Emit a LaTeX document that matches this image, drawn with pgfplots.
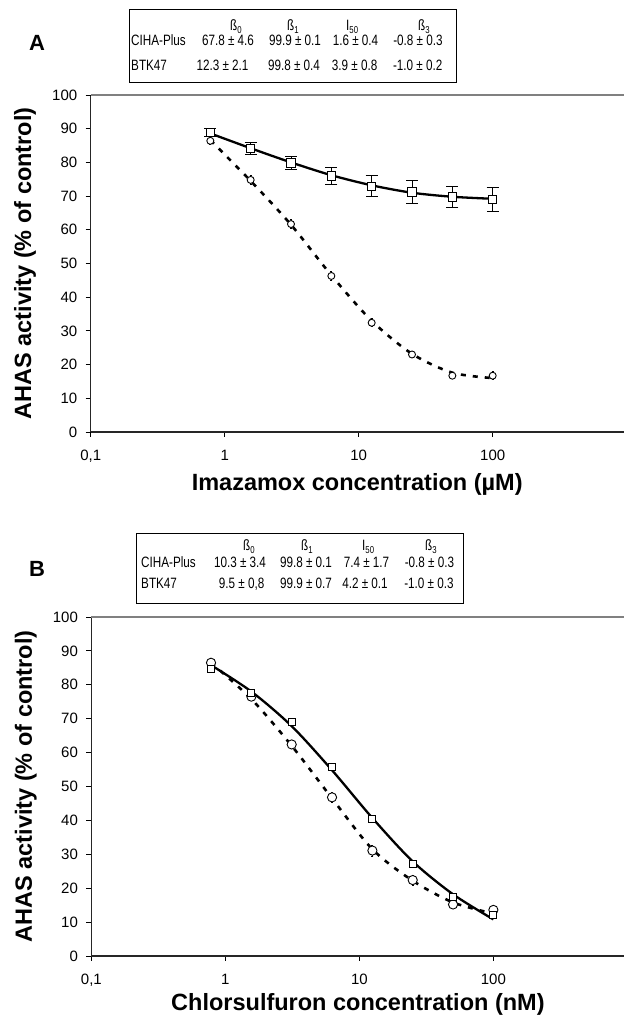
\documentclass[border=0pt]{standalone}
\usepackage{fontspec}
\setmainfont{Liberation Sans}
\newfontfamily\narrowfont[FakeStretch=0.78]{Liberation Sans}
\usepackage{pgfplots}
\pgfplotsset{compat=1.18}

\newcommand\tickfont{\fontsize{15bp}{18bp}\selectfont}
\newcommand\labfont{\bfseries\fontsize{23.5bp}{28bp}\selectfont}
\newcommand\tabfont{\narrowfont\fontsize{15bp}{18bp}\selectfont}
\newcommand\sub[1]{\raisebox{-0.2em}{\fontsize{10bp}{11bp}\selectfont #1}}

\pgfplotsset{
  panel/.style={
    scale only axis, width=533bp,
    xmin=0.1, xmax=950, ymin=0, ymax=100,
    axis x line*=bottom, axis y line*=left,
    axis line style={line width=1.1bp, black!85},
    xtick={0.1,1,10,100}, xticklabels={0{,}1,1,10,100},
    xminorticks=false,
    ytick={0,10,...,90}, yticklabels={0,10,20,30,40,50,60,70,80,90},
    extra y ticks={100}, extra y tick labels={100},
    extra y tick style={grid=major, major grid style={gray, line width=1.1bp}},
    tick align=outside, major tick length=5bp,
    tick style={line width=0.9bp, black},
    tick label style={font=\tickfont},
    xticklabel style={yshift=-10bp},
    yticklabel style={xshift=-5bp},
    xlabel style={font=\labfont, anchor=base},
    ylabel style={font=\labfont, at={(axis description cs:-0.123,0.5)}, anchor=center},
    ylabel={AHAS activity (\% of control)},
  },
  fitsolid/.style={black, line width=2.3bp, smooth, no marks},
  fitdash/.style={black, line width=2.6bp, smooth, no marks, dash pattern=on 5bp off 7bp},
  sq/.style={only marks, mark=square*, mark options={fill=white, draw=black, line width=0.9bp, solid}},
  ci/.style={only marks, mark=*, mark options={fill=white, draw=black, line width=0.9bp, solid}},
}

% panel A
\pgfplotstableread{
x y e
0.78125 88.9 1.3
1.5625 84.2 1.8
3.125 79.8 1.9
6.25 76.0 2.4
12.5 72.9 3.1
25 71.2 3.4
50 69.7 3.1
100 69.0 3.6
}\Asq
\pgfplotstableread{
x y e
0.78125 86.4 1.0
1.5625 74.8 1.2
3.125 61.7 1.3
6.25 46.3 1.4
12.5 32.4 1.2
25 23.0 0.6
50 16.7 0.6
100 16.7 1.2
}\Aci
\pgfplotstableread{
x y
0.78125 88.6
1.5625 84.2
3.125 80.0
6.25 76.2
12.5 73.2
25 71.0
50 69.8
100 69.2
}\Afitsq
\pgfplotstableread{
x y
0.78125 86.6
1.5625 74.5
3.125 61.5
6.25 46.5
12.5 33.0
25 23.2
50 17.6
100 16.0
}\Afitci
% panel B
\pgfplotstableread{
x y
0.78125 84.6
1.5625 77.5
3.125 68.9
6.25 55.7
12.5 40.4
25 27.1
50 17.3
100 12.1
}\Bsq
\pgfplotstableread{
x y e
0.78125 86.5 1.0
1.5625 76.5 1.2
3.125 62.4 1.0
6.25 46.8 1.6
12.5 31.1 1.6
25 22.4 1.5
50 15.2 0.8
100 13.6 0.8
}\Bci
\pgfplotstableread{
x y
0.78125 85.8
1.5625 78.0
3.125 67.8
6.25 54.8
12.5 40.7
25 27.9
50 18.2
100 10.8
}\Bfitsq
\pgfplotstableread{
x y
0.78125 86.5
1.5625 75.8
3.125 62.0
6.25 46.5
12.5 31.5
25 22.2
50 15.8
100 12.5
}\Bfitci

\begin{document}
\begin{tikzpicture}
\useasboundingbox (0,0) rectangle (624bp,1017bp);

\begin{semilogxaxis}[panel, height=337bp, at={(90.7bp,585bp)}, anchor=south west,
  xlabel style={at={(axis description cs:0.5,-0.175)}},
  xlabel={Imazamox concentration (µM)}]
  \addplot[fitsolid] table[x=x,y=y] {\Afitsq};
  \addplot[fitdash] table[x=x,y=y] {\Afitci};
  \addplot[sq, mark size=4.2bp, error bars/.cd, y dir=both, y explicit,
    error bar style={line width=0.9bp, solid},
    error mark options={rotate=90, mark size=6bp, line width=0.9bp}]
    table[x=x,y=y,y error=e] {\Asq};
  \addplot[ci, mark size=3.5bp, error bars/.cd, y dir=both, y explicit,
    error bar style={line width=0.8bp, solid},
    error mark options={rotate=90, mark size=1bp, line width=0.8bp}]
    table[x=x,y=y,y error=e] {\Aci};
\end{semilogxaxis}

\begin{semilogxaxis}[panel, height=339bp, at={(91.4bp,61bp)}, anchor=south west,
  xlabel style={at={(axis description cs:0.5,-0.162)}},
  xlabel={Chlorsulfuron concentration (nM)}]
  \addplot[fitsolid] table[x=x,y=y] {\Bfitsq};
  \addplot[fitdash] table[x=x,y=y] {\Bfitci};
  \addplot[ci, mark size=4.6bp, error bars/.cd, y dir=both, y explicit,
    error bar style={line width=0.8bp, solid},
    error mark options={rotate=90, mark size=1bp, line width=0.8bp}]
    table[x=x,y=y,y error=e] {\Bci};
  \addplot[sq, mark size=3.5bp] table[x=x,y=y] {\Bsq};
\end{semilogxaxis}

\begin{scope}[shift={(0,1017bp)}, x=1bp, y=-1bp]
  % panel A
  \node[font=\bfseries\fontsize{22bp}{26bp}\selectfont] at (37,43) {A};
  \draw[line width=0.9bp] (129,9) rectangle (456,82);
  \begin{scope}[every node/.style={font=\tabfont, inner sep=0pt}]
    \node[anchor=base west] at (230,30.5) {ß\sub{0}};
    \node[anchor=base west] at (287,30.5) {ß\sub{1}};
    \node[anchor=base west] at (346,30.5) {I\sub{50}};
    \node[anchor=base west] at (418,30.5) {ß\sub{3}};
    \node[anchor=base west] at (131,45.5) {CIHA-Plus};
    \node[anchor=base west] at (131,70.5) {BTK47};
    \node[anchor=base] at (228,45.5) {67.8 ± 4.6};
    \node[anchor=base] at (295,45.5) {99.9 ± 0.1};
    \node[anchor=base] at (355.5,45.5) {1.6 ± 0.4};
    \node[anchor=base] at (418,45.5) {-0.8 ± 0.3};
    \node[anchor=base] at (222.5,70.5) {12.3 ± 2.1};
    \node[anchor=base] at (294,70.5) {99.8 ± 0.4};
    \node[anchor=base] at (354.7,70.5) {3.9 ± 0.8};
    \node[anchor=base] at (417.7,70.5) {-1.0 ± 0.2};
  \end{scope}
  % panel B
  \node[font=\bfseries\fontsize{22bp}{26bp}\selectfont] at (37,569) {B};
  \draw[line width=0.9bp] (136,533) rectangle (463,603);
  \begin{scope}[every node/.style={font=\tabfont, inner sep=0pt}]
    \node[anchor=base west] at (243,550.5) {ß\sub{0}};
    \node[anchor=base west] at (301,550.5) {ß\sub{1}};
    \node[anchor=base west] at (362,550.5) {I\sub{50}};
    \node[anchor=base west] at (425,550.5) {ß\sub{3}};
    \node[anchor=base west] at (141,568) {CIHA-Plus};
    \node[anchor=base west] at (141,589) {BTK47};
    \node[anchor=base] at (240,568) {10.3 ± 3.4};
    \node[anchor=base] at (306,568) {99.8 ± 0.1};
    \node[anchor=base] at (366.5,568) {7.4 ± 1.7};
    \node[anchor=base] at (429.5,568) {-0.8 ± 0.3};
    \node[anchor=base] at (241.7,589) {9.5 ± 0,8};
    \node[anchor=base] at (306,589) {99.9 ± 0.7};
    \node[anchor=base] at (365,589) {4.2 ± 0.1};
    \node[anchor=base] at (429,589) {-1.0 ± 0.3};
  \end{scope}
\end{scope}
\end{tikzpicture}
\end{document}
